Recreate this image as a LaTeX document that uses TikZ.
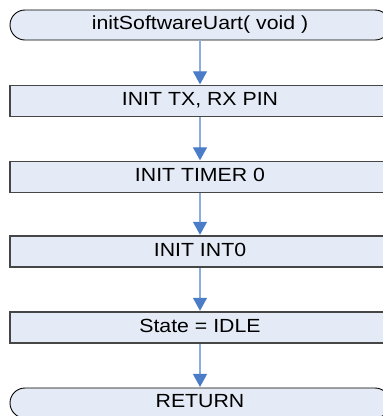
\documentclass[tikz,border=0pt]{standalone}
\usepackage{graphicx}
\usepackage{fontspec}
\setmainfont{Liberation Sans}
\usetikzlibrary{arrows.meta}
\definecolor{boxfill}{RGB}{228,235,246}
\definecolor{boxedge}{RGB}{70,70,70}
\definecolor{flowline}{RGB}{140,174,222}
\definecolor{flowhead}{RGB}{74,124,199}
% labels are set slightly wide
\newcommand\widelabel[1]{\scalebox{1.12}[1]{#1}}
\begin{document}
\begin{tikzpicture}[x=1pt,y=-1pt,
  every node/.style={font=\fontsize{19}{21}\selectfont, inner sep=0pt,
    text height=13.5pt, text depth=4.5pt},
  procbox/.style={draw=boxedge, line width=1.2pt, fill=boxfill,
    minimum width=380pt, minimum height=31pt},
  termbox/.style={draw=black, line width=0.9pt, fill=boxfill,
    rounded corners=15pt, minimum width=380pt, minimum height=30pt},
  flow/.style={draw=flowline, line width=1.3pt,
    -{Triangle[length=13pt,width=14pt,color=flowhead]}, shorten >=0.6pt}]
  \useasboundingbox (0,0) rectangle (383,416);
  \clip (0,0) rectangle (383,416);

  % start and end terminators
  \node[termbox] (start) at (200,25) {\widelabel{initSoftwareUart( void )}};
  \node[termbox] (ret) at (200,403) {\widelabel{RETURN}};

  % processing steps
  \node[procbox] (pins) at (200,101) {\widelabel{INIT TX, RX PIN}};
  \node[procbox] (timer) at (200,177) {\widelabel{INIT TIMER 0}};
  \node[procbox] (int0) at (200,251.5) {\widelabel{INIT INT0}};
  \node[procbox] (state) at (200,327.5) {\widelabel{State = IDLE}};

  % connectors
  \draw[flow] (start) -- (pins);
  \draw[flow] (pins) -- (timer);
  \draw[flow] (timer) -- (int0);
  \draw[flow] (int0) -- (state);
  \draw[flow] (state) -- (ret);
\end{tikzpicture}
\end{document}
